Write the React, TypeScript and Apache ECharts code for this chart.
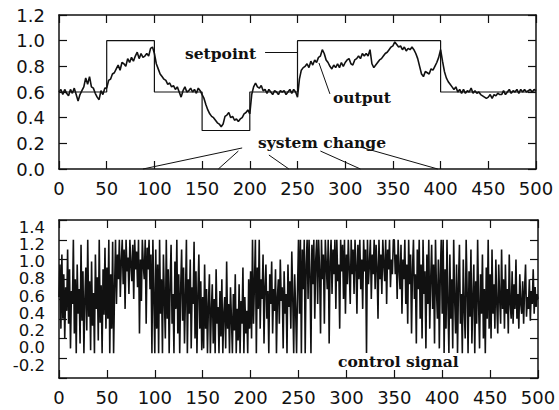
import React, { useEffect, useRef } from "react";
import * as echarts from "echarts";

// ---------- data ----------
const setpointX = [0, 50, 50, 100, 100, 150, 150, 200, 200, 250, 250, 400, 400, 500];
const setpointY = [0.6, 0.6, 1.0, 1.0, 0.6, 0.6, 0.3, 0.3, 0.6, 0.6, 1.0, 1.0, 0.6, 0.6];

// process output, sampled every 2 steps (t = 0, 2, ..., 500)
const outputStep = 2;
const outputValues = [
  0.60, 0.62, 0.58, 0.62, 0.59, 0.57, 0.62, 0.59, 0.63, 0.58, 0.53, 0.58, 0.61, 0.64, 0.71, 0.66, 0.72, 0.64, 0.63, 0.59, 0.56, 0.54, 0.61, 0.58, 0.63,
  0.63, 0.69, 0.70, 0.74, 0.75, 0.78, 0.81, 0.77, 0.83, 0.82, 0.80, 0.86, 0.83, 0.87, 0.84, 0.88, 0.91, 0.86, 0.90, 0.87, 0.88, 0.90, 0.88, 0.94, 0.95,
  0.90, 0.82, 0.78, 0.74, 0.72, 0.70, 0.69, 0.66, 0.67, 0.64, 0.65, 0.62, 0.64, 0.60, 0.56, 0.61, 0.64, 0.60, 0.61, 0.63, 0.60, 0.62, 0.59, 0.63, 0.61,
  0.58, 0.55, 0.50, 0.46, 0.43, 0.41, 0.40, 0.38, 0.36, 0.35, 0.33, 0.35, 0.41, 0.42, 0.44, 0.40, 0.41, 0.38, 0.39, 0.37, 0.39, 0.40, 0.43, 0.44, 0.46,
  0.43, 0.58, 0.64, 0.67, 0.64, 0.63, 0.65, 0.61, 0.62, 0.59, 0.62, 0.60, 0.58, 0.61, 0.60, 0.58, 0.61, 0.60, 0.61, 0.58, 0.60, 0.62, 0.59, 0.62, 0.60,
  0.56, 0.70, 0.77, 0.79, 0.80, 0.82, 0.79, 0.84, 0.81, 0.85, 0.83, 0.87, 0.88, 0.93, 0.90, 0.85, 0.83, 0.80, 0.78, 0.81, 0.79, 0.82, 0.79, 0.83, 0.80,
  0.83, 0.85, 0.86, 0.82, 0.81, 0.85, 0.86, 0.88, 0.86, 0.90, 0.88, 0.90, 0.88, 0.93, 0.82, 0.79, 0.81, 0.83, 0.85, 0.86, 0.88, 0.90, 0.91, 0.93, 0.95,
  0.96, 0.99, 0.97, 0.95, 0.96, 0.93, 0.95, 0.92, 0.94, 0.93, 0.95, 0.93, 0.90, 0.86, 0.80, 0.74, 0.72, 0.76, 0.75, 0.74, 0.78, 0.77, 0.80, 0.83, 0.87,
  0.93, 0.84, 0.76, 0.71, 0.68, 0.66, 0.64, 0.62, 0.64, 0.60, 0.62, 0.59, 0.62, 0.59, 0.61, 0.60, 0.63, 0.59, 0.61, 0.59, 0.60, 0.58, 0.57, 0.56, 0.55,
  0.56, 0.58, 0.55, 0.58, 0.57, 0.59, 0.58, 0.58, 0.61, 0.58, 0.60, 0.62, 0.59, 0.61, 0.60, 0.62, 0.59, 0.62, 0.60, 0.62, 0.60, 0.61, 0.62, 0.60, 0.62, 0.61,
];

// control signal, t = 0 .. 500
const controlValues = [
  0.62, 0.95, 0.30, 1.05, 0.40, 0.85, 0.20, 0.72, 0.48, 1.10, 0.35, 0.90, 0.10, 0.68, 0.55, 1.20, 0.25, 0.80, 0.05, 0.95,
  0.45, 0.70, 0.15, 1.15, 0.38, 0.88, 0.05, 0.60, 0.92, 0.28, 1.20, 0.42, 0.78, 0.08, 0.98, 0.33, 0.66, 0.05, 1.05, 0.50,
  0.82, 0.18, 1.20, 0.36, 0.74, 0.05, 0.90, 0.44, 1.12, 0.30,
  0.92, 0.40, 1.20, 0.05, 0.85, 0.30, 1.18, 0.05, 0.70, 1.20, 0.55, 1.05, 0.80, 1.20, 0.62, 0.98, 1.20, 0.75, 1.10, 0.50,
  1.20, 0.88, 1.02, 0.65, 1.20, 0.95, 0.78, 1.15, 0.60, 1.20, 0.90, 1.08, 0.72, 1.20, 0.25, 1.00, 0.58, 1.20, 0.94, 0.80,
  1.20, 0.35, 1.12, 0.90, 1.20, 0.70, 1.05, 0.05, 1.20, 0.62,
  0.05, 1.10, 0.30, 0.95, 0.05, 1.20, 0.45, 0.80, 0.05, 1.05, 0.60, 0.20, 1.20, 0.40, 0.90, 0.05, 0.75, 1.15, 0.35, 0.65,
  0.05, 0.98, 0.50, 1.20, 0.25, 0.85, 0.05, 0.70, 1.10, 0.38, 0.92, 0.15, 0.62, 1.20, 0.05, 0.80, 0.45, 1.00, 0.10, 0.72,
  0.55, 1.18, 0.20, 0.88, 0.05, 0.65, 1.05, 0.30, 0.78, 0.08,
  0.62, 0.10, 0.95, 0.30, 0.70, 0.05, 0.55, 0.85, 0.05, 0.48, 0.75, 0.15, 0.60, 0.05, 0.90, 0.35, 0.52, 0.05, 0.68, 0.22,
  0.80, 0.05, 0.45, 0.62, 0.10, 0.98, 0.30, 0.55, 0.05, 0.72, 0.40, 0.05, 0.65, 0.28, 0.85, 0.05, 0.50, 0.18, 0.75, 0.05,
  0.58, 0.35, 0.92, 0.05, 0.62, 0.25, 0.48, 0.05, 0.80, 0.30,
  0.88, 0.20, 1.20, 0.35, 0.75, 1.20, 0.05, 0.92, 0.50, 1.20, 0.30, 0.80, 0.60, 1.05, 0.15, 0.72, 0.95, 0.40, 0.68, 0.05,
  0.85, 0.55, 0.98, 0.25, 0.70, 0.48, 0.90, 0.05, 0.62, 0.80, 0.35, 1.00, 0.58, 0.72, 0.10, 0.88, 0.45, 0.65, 0.05, 0.95,
  0.52, 0.78, 0.30, 1.08, 0.62, 0.05, 0.85, 0.50, 0.05, 0.70,
  1.20, 0.45, 1.20, 0.05, 1.10, 0.70, 1.20, 0.05, 0.95, 1.20, 0.60, 1.20, 0.85, 0.05, 1.15, 0.75, 1.20, 0.40, 1.00, 1.20,
  0.55, 1.20, 0.90, 0.25, 1.20, 0.80, 1.05, 0.35, 1.20, 0.95, 0.70, 1.20, 0.15, 0.98, 1.20, 0.65, 1.10, 0.85, 1.20, 0.50,
  1.20, 0.78, 0.95, 0.30, 1.20, 0.88, 1.15, 0.60, 1.20, 0.45,
  1.05, 0.75, 1.20, 0.90, 0.55, 1.20, 0.85, 1.10, 0.65, 1.20, 0.95, 0.45, 1.15, 0.80, 1.20, 0.70, 1.00, 0.50, 1.20, 0.88,
  1.10, 0.05, 1.20, 0.75, 0.95, 1.20, 0.60, 1.05, 0.85, 1.20, 0.70, 1.15, 0.92, 0.40, 1.20, 0.80, 1.05, 0.65, 1.20, 0.95,
  0.78, 1.20, 0.55, 1.10, 0.90, 1.20, 0.72, 1.00, 0.85, 1.20,
  1.20, 0.85, 1.05, 0.60, 1.20, 0.90, 0.70, 1.15, 0.45, 1.00, 0.80, 1.20, 0.55, 0.95, 0.35, 1.20, 0.75, 1.05, 0.25, 0.90,
  1.20, 0.60, 0.85, 0.15, 1.10, 0.70, 1.20, 0.40, 0.95, 0.20, 1.20, 0.65, 0.88, 0.10, 1.05, 0.55, 1.20, 0.30, 0.80, 1.15,
  0.50, 0.95, 0.15, 1.20, 0.70, 0.40, 1.00, 0.10, 0.85, 1.20,
  0.45, 1.20, 0.05, 0.90, 0.30, 1.20, 0.55, 0.05, 1.05, 0.40, 0.80, 0.10, 1.20, 0.60, 0.25, 0.95, 0.05, 0.75, 1.15, 0.35,
  0.65, 0.05, 1.00, 0.50, 0.20, 1.20, 0.70, 0.05, 0.88, 0.42, 1.10, 0.15, 0.60, 0.95, 0.05, 0.78, 0.35, 1.20, 0.55, 0.10,
  0.85, 0.45, 1.05, 0.20, 0.70, 0.05, 0.92, 0.40, 1.20, 0.30,
  0.85, 0.20, 1.10, 0.45, 0.75, 0.30, 1.00, 0.55, 0.25, 0.95, 0.60, 0.35, 1.10, 0.50, 0.80, 0.30, 0.95, 0.45, 0.70, 0.25,
  1.05, 0.55, 0.40, 0.88, 0.35, 0.75, 0.50, 1.00, 0.40, 0.65, 0.30, 0.85, 0.55, 0.45, 0.78, 0.35, 0.70, 0.95, 0.42, 0.62,
  0.50, 0.80, 0.38, 0.68, 0.55, 0.90, 0.45, 0.72, 0.52, 0.65, 0.60,
];

// "system change" pointer lines: from the time axis to the label
const systemChangeX = [88, 167, 241, 316, 397];
const systemChangeTipX = [192, 188, 220, 274, 316];
const systemChangeTipY = [0.164, 0.14, 0.109, 0.14, 0.171];

// other pointer lines [x0, y0, x1, y1] in data units
const setpointPointer = [216, 0.91, 250, 0.91];
const outputPointer = [272.5, 0.826, 284, 0.585];

const xTickInterval = 50;
const yTickInterval = 0.2;
const topYRange = [0, 1.2];
const bottomYRange = [-0.2, 1.4];
const timeRange = [0, 500];

// ---------- chart ----------
const BLACK = "#111";
const tickFont = { fontFamily: "DejaVu Sans", fontSize: 18, color: BLACK };
const noteFont = { fontFamily: "DejaVu Serif", fontSize: 15.5, fontWeight: "bold", fill: BLACK };
const fmt = (v: number) => (Math.abs(v) < 1e-9 ? "0.0" : v.toFixed(1));

function xAxisDef(grid: number, position: "top" | "bottom", labels: boolean) {
  return {
    gridIndex: grid,
    type: "value",
    position,
    min: timeRange[0],
    max: timeRange[1],
    interval: xTickInterval,
    axisLine: { show: true, onZero: false, lineStyle: { color: BLACK, width: 1.5 } },
    axisTick: { show: true, inside: true, length: 8, lineStyle: { color: BLACK, width: 1.2 } },
    axisLabel: { show: labels, margin: 10, showMinLabel: true, showMaxLabel: true, ...tickFont },
    splitLine: { show: false },
  };
}

function yAxisDef(grid: number, position: "left" | "right", range: number[], labels: boolean) {
  return {
    gridIndex: grid,
    type: "value",
    position,
    min: range[0],
    max: range[1],
    interval: yTickInterval,
    axisLine: { show: true, onZero: false, lineStyle: { color: BLACK, width: 1.5 } },
    axisTick: { show: true, inside: true, length: 8, lineStyle: { color: BLACK, width: 1.2 } },
    axisLabel: { show: labels, margin: 14, formatter: fmt, showMinLabel: true, showMaxLabel: true, ...tickFont },
    splitLine: { show: false },
  };
}

export default function App() {
  const ref = useRef<HTMLDivElement>(null);

  useEffect(() => {
    if (!ref.current) return;
    const chart = echarts.init(ref.current, null, { renderer: "svg" });

    const setpointData = setpointX.map((x, i) => [x, setpointY[i]]);
    const outputData = outputValues.map((v, i) => [i * outputStep, v]);
    const controlData = controlValues.map((v, i) => [i, v]);

    const pointerLines: any[] = systemChangeX.map((x, i) => [
      { coord: [x, 0] },
      { coord: [systemChangeTipX[i], systemChangeTipY[i]] },
    ]);
    pointerLines.push([
      { coord: [setpointPointer[0], setpointPointer[1]] },
      { coord: [setpointPointer[2], setpointPointer[3]] },
    ]);
    pointerLines.push([
      { coord: [outputPointer[0], outputPointer[1]] },
      { coord: [outputPointer[2], outputPointer[3]] },
    ]);

    chart.setOption({
      animation: false,
      backgroundColor: "#fff",
      grid: [
        { left: 59, top: 15, width: 477, height: 154 },
        { left: 59, top: 220, width: 479, height: 158 },
        { left: 59, top: 227, width: 479, height: 138 },
      ],
      xAxis: [
        xAxisDef(0, "bottom", true),
        xAxisDef(0, "top", false),
        xAxisDef(1, "bottom", true),
        xAxisDef(1, "top", false),
        { gridIndex: 2, type: "value", min: timeRange[0], max: timeRange[1], show: false },
      ],
      yAxis: [
        yAxisDef(0, "left", topYRange, true),
        yAxisDef(0, "right", topYRange, false),
        yAxisDef(1, "left", bottomYRange, false),
        yAxisDef(1, "right", bottomYRange, false),
        {
          gridIndex: 2,
          type: "value",
          position: "left",
          min: bottomYRange[0],
          max: bottomYRange[1],
          interval: yTickInterval,
          axisLine: { show: false },
          axisTick: { show: false },
          splitLine: { show: false },
          axisLabel: {
            show: true,
            margin: 14,
            formatter: fmt,
            showMinLabel: true,
            showMaxLabel: true,
            hideOverlap: false,
            ...tickFont,
            fontSize: 16.5,
            lineHeight: 14,
          },
        },
      ],
      series: [
        {
          name: "setpoint",
          type: "line",
          xAxisIndex: 0,
          yAxisIndex: 0,
          data: setpointData,
          symbol: "none",
          lineStyle: { color: BLACK, width: 1.2 },
          z: 2,
          markLine: {
            silent: true,
            symbol: ["none", "none"],
            label: { show: false },
            lineStyle: { color: BLACK, width: 1, type: "solid" },
            data: pointerLines,
          },
        },
        {
          name: "output",
          type: "line",
          xAxisIndex: 0,
          yAxisIndex: 0,
          data: outputData,
          symbol: "none",
          lineStyle: { color: BLACK, width: 1.6 },
          z: 3,
        },
        {
          name: "control signal",
          type: "line",
          xAxisIndex: 2,
          yAxisIndex: 2,
          data: controlData,
          symbol: "none",
          lineStyle: { color: BLACK, width: 1.6 },
        },
      ],
      graphic: [
        { type: "text", left: 185, top: 45, style: { text: "setpoint", ...noteFont } },
        { type: "text", left: 333, top: 89, style: { text: "output", ...noteFont } },
        { type: "text", left: 258, top: 134, style: { text: "system change", ...noteFont } },
        {
          type: "text",
          left: 336,
          top: 353,
          z: 10,
          style: { text: "control signal", ...noteFont, backgroundColor: "#fff", padding: [0, 2, 0, 2] },
        },
      ],
    });

    return () => chart.dispose();
  }, []);

  return (
    <div
      ref={ref}
      style={{ position: "fixed", left: 0, top: 0, width: 559, height: 410, background: "#fff" }}
    />
  );
}
